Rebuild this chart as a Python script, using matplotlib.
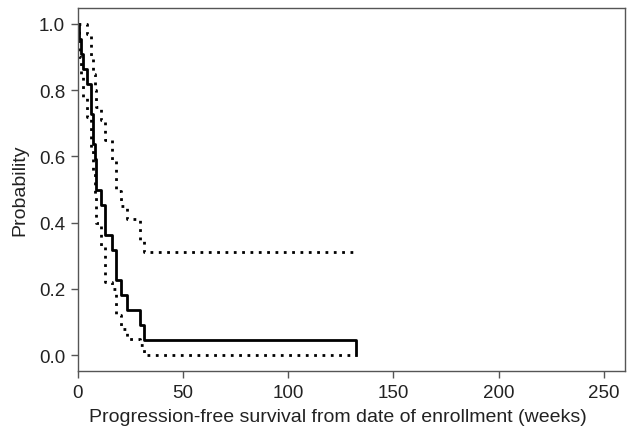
import numpy as np
import matplotlib.pyplot as plt

plt.rcParams['font.family'] = ['Liberation Sans', 'DejaVu Sans']

# Kaplan-Meier step points (weeks) with estimate and 95% band
weeks = [0, 0.8, 1.4, 2.5, 4.3, 6.5, 7.2, 8.0, 8.8, 11.0, 12.8, 16.4, 18.3,
         20.8, 23.3, 29.4, 31.6, 132.4]
at_risk = [22, 21, 20, 19, 18, 16, 14, 13, 11, 10, 8, 7, 5, 4, 3, 2, 1, 0]
surv = np.array(at_risk) / 22
upper = [1.0, 1.0, 1.0, 1.0, 0.97, 0.90, 0.85, 0.80, 0.75, 0.71, 0.65, 0.585,
         0.495, 0.45, 0.41, 0.345, 0.31, 0.31]
lower = [1.0, 0.90, 0.84, 0.78, 0.72, 0.62, 0.55, 0.48, 0.40, 0.33, 0.22, 0.20,
         0.12, 0.08, 0.05, 0.03, 0.0, 0.0]

fig = plt.figure(figsize=(6.28, 4.27), dpi=100)
ax = fig.add_axes([0.1237, 0.1288, 0.8715, 0.850])

dots = (0, (1, 2))
ax.step(weeks, upper, where='post', color='black', lw=2.0, linestyle=dots)
ax.step(weeks, lower, where='post', color='black', lw=2.0, linestyle=dots)
ax.step(weeks, surv, where='post', color='black', lw=2.0)

ax.set_xlim(0, 260)
ax.set_ylim(-0.048, 1.048)
ax.set_xticks([0, 50, 100, 150, 200, 250])
ax.set_yticks([0.0, 0.2, 0.4, 0.6, 0.8, 1.0])
ax.set_yticklabels(['0.0', '0.2', '0.4', '0.6', '0.8', '1.0'])

for s in ax.spines.values():
    s.set_color('#555555')
    s.set_linewidth(1.0)
ax.tick_params(direction='out', length=5, width=1, color='#555555',
               labelsize=13.5, colors='#222222', pad=4)

ax.set_xlabel('Progression-free survival from date of enrollment (weeks)',
              fontsize=14, color='#222222')
ax.set_ylabel('Probability', fontsize=14, color='#222222')
ax.xaxis.set_label_coords(0.476, -0.103)
ax.yaxis.set_label_coords(-0.09, 0.5)

fig.savefig('out.png', dpi=100)
